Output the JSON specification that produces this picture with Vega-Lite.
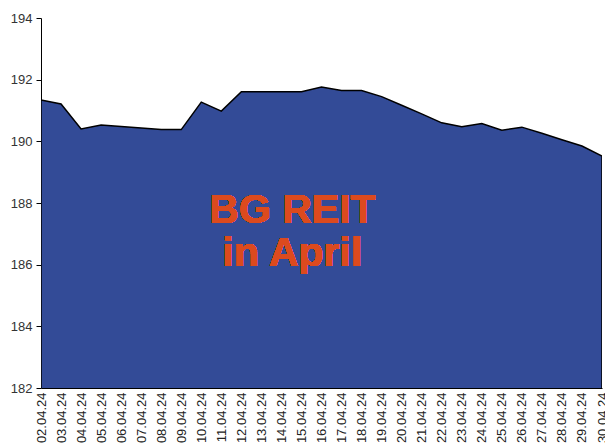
{
  "$schema": "https://vega.github.io/schema/vega-lite/v6.json",
  "width": 561,
  "height": 370,
  "autosize": {"type": "none"},
  "padding": {"left": 41, "top": 18, "right": 3, "bottom": 56},
  "background": "white",
  "config": {"view": {"stroke": null}, "font": "Liberation Sans"},
  "data": {"values": [
    {"date": "02.04.24", "value": 191.34},
    {"date": "03.04.24", "value": 191.21},
    {"date": "04.04.24", "value": 190.40},
    {"date": "05.04.24", "value": 190.53},
    {"date": "06.04.24", "value": 190.48},
    {"date": "07.04.24", "value": 190.43},
    {"date": "08.04.24", "value": 190.38},
    {"date": "09.04.24", "value": 190.38},
    {"date": "10.04.24", "value": 191.27},
    {"date": "11.04.24", "value": 190.98},
    {"date": "12.04.24", "value": 191.61},
    {"date": "13.04.24", "value": 191.61},
    {"date": "14.04.24", "value": 191.61},
    {"date": "15.04.24", "value": 191.61},
    {"date": "16.04.24", "value": 191.76},
    {"date": "17.04.24", "value": 191.65},
    {"date": "18.04.24", "value": 191.65},
    {"date": "19.04.24", "value": 191.45},
    {"date": "20.04.24", "value": 191.17},
    {"date": "21.04.24", "value": 190.89},
    {"date": "22.04.24", "value": 190.60},
    {"date": "23.04.24", "value": 190.47},
    {"date": "24.04.24", "value": 190.58},
    {"date": "25.04.24", "value": 190.36},
    {"date": "26.04.24", "value": 190.46},
    {"date": "27.04.24", "value": 190.26},
    {"date": "28.04.24", "value": 190.05},
    {"date": "29.04.24", "value": 189.85},
    {"date": "30.04.24", "value": 189.52}
  ]},
  "encoding": {
    "x": {
      "field": "date", "type": "ordinal",
      "scale": {"type": "point", "padding": 0},
      "axis": {"title": null, "labelAngle": -90, "labelAlign": "right", "labelBaseline": "middle", "labelFontSize": 13, "labelColor": "#222", "ticks": false, "domain": true, "domainColor": "black", "labelPadding": 4, "labelFont": "Liberation Sans", "labelOverlap": false}
    },
    "y": {
      "field": "value", "type": "quantitative",
      "scale": {"domain": [182, 194], "zero": false, "nice": false},
      "axis": {"title": null, "values": [182, 184, 186, 188, 190, 192, 194], "grid": false, "domainColor": "black", "tickColor": "black", "tickSize": 5, "labelFontSize": 13, "labelColor": "#333", "labelPadding": 4, "labelFont": "Liberation Sans"}
    }
  },
  "layer": [
    {"mark": {"type": "area", "color": "#334b97", "stroke": "black", "strokeWidth": 1.5, "clip": true}},
    {
      "mark": {"type": "text", "text": ["BG REIT", "in April"], "font": "Liberation Sans", "fontWeight": "bold", "fontSize": 41, "lineHeight": 43, "color": "#dc4a1e", "align": "center", "baseline": "alphabetic", "dx": -9},
      "encoding": {"x": {"datum": "15.04.24"}, "y": {"datum": 187.34}}
    }
  ]
}
